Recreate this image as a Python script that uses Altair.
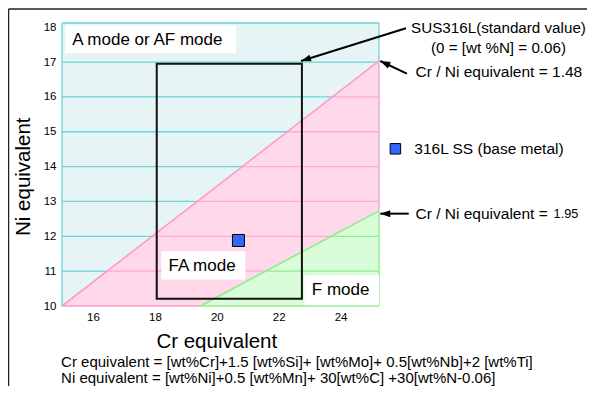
import math
import altair as alt
import pandas as pd

FONT = "Liberation Sans"

# ---- axes ----
CR_DOMAIN = [15.0, 25.24]
NI_DOMAIN = [10.0, 18.12]
CR_TICKS = [16, 18, 20, 22, 24]
NI_TICKS = [10, 11, 12, 13, 14, 15, 16, 17, 18]
GRID_NI = [11, 12, 13, 14, 15, 16, 17]
PLOT_W, PLOT_H = 317, 283

# ---- boundary lines ----
PINK_CR = [15.0, 25.24]     # Cr/Ni equivalent = 1.48
PINK_NI = [10.0, 17.03]
GREEN_CR = [19.47, 25.24]   # Cr/Ni equivalent = 1.95
GREEN_NI = [10.0, 12.73]

# ---- SUS316L standard-value rectangle ----
RECT_CR = [18.06, 22.75]
RECT_NI = [10.21, 16.95]

# ---- 316L SS base metal ----
BASE_CR = [20.70]
BASE_NI = [11.88]

# ---- mode labels (white boxes) ----
MODE_TEXT = ["A mode or AF mode", "FA mode", "F mode"]
MODE_BOX_CR = [[15.11, 20.63], [18.21, 20.92], [22.83, 25.24]]
MODE_BOX_NI = [[18.05, 17.26], [11.57, 10.76], [10.88, 10.02]]
MODE_TEXT_CR = [15.33, 18.44, 23.07]
MODE_TEXT_NI = [17.64, 11.14, 10.45]

# ---- arrows (tail -> tip) ----
ARROW_TAIL_CR = [26.11, 26.14, 26.20]
ARROW_TAIL_NI = [17.97, 16.67, 12.65]
ARROW_TIP_CR = [22.72, 25.28, 25.28]
ARROW_TIP_NI = [17.03, 17.03, 12.65]

# ---- annotation texts ----
CENTER_TEXT = ["SUS316L(standard value)", "(0 = [wt %N] = 0.06)"]
CENTER_CR = [29.10, 29.10]
CENTER_NI = [17.98, 17.40]
CENTER_SIZE = [15.2, 15.2]
LEFT_TEXT = ["Cr / Ni equivalent = 1.48", "316L SS (base metal)", "Cr / Ni equivalent = ", "1.95"]
LEFT_CR = [26.42, 26.38, 26.42, 30.88]
LEFT_NI = [16.70, 14.51, 12.63, 12.63]
LEFT_SIZE = [15.5, 15.5, 15.5, 12.7]
LEGEND_CR = [25.77]
LEGEND_NI = [14.51]

EQUATIONS = [
    "Cr equivalent = [wt%Cr]+1.5 [wt%Si]+ [wt%Mo]+ 0.5[wt%Nb]+2 [wt%Ti]",
    "Ni equivalent = [wt%Ni]+0.5 [wt%Mn]+ 30[wt%C] +30[wt%N-0.06]",
]
EQ_CR = [14.97, 14.97]
EQ_NI = [8.263, 7.804]

# ---- colours ----
CYAN_BG, CYAN_LN = "#e6f4f5", "#66d6d6"
PINK_BG, PINK_LN, PINK_GRID, PINK_EDGE = "#ffd8ea", "#ff99cc", "#ffaad4", "#d9a6dc"
GREEN_BG, GREEN_LN = "#d8fdd8", "#8ced8c"
BLUE = "#3366ff"

XS = alt.Scale(domain=CR_DOMAIN, nice=False, zero=False)
YS = alt.Scale(domain=NI_DOMAIN, nice=False, zero=False)
XAX = alt.Axis(values=CR_TICKS, domain=False, ticks=False, grid=False, labelFontSize=11.5,
               labelColor="black", labelFont=FONT, labelPadding=5, title=None)
YAX = alt.Axis(values=NI_TICKS, domain=False, ticks=False, grid=False, labelFontSize=11.5,
               labelColor="black", labelFont=FONT, labelPadding=6, title=None)


def X(f="cr"):
    return alt.X(f"{f}:Q", scale=XS, axis=XAX)


def Y(f="ni"):
    return alt.Y(f"{f}:Q", scale=YS, axis=YAX)


def pink_x(k):
    return PINK_CR[0] + (k - PINK_NI[0]) * (PINK_CR[1] - PINK_CR[0]) / (PINK_NI[1] - PINK_NI[0])


def green_x(k):
    return GREEN_CR[0] + (k - GREEN_NI[0]) * (GREEN_CR[1] - GREEN_CR[0]) / (GREEN_NI[1] - GREEN_NI[0])


xmin, xmax = CR_DOMAIN
ymin, ymax = NI_DOMAIN

# horizontal grid segments coloured by region
hseg = []
for k in GRID_NI:
    xp = min(pink_x(k), xmax)
    hseg.append((xmin, xp, k, CYAN_LN))
    if k <= GREEN_NI[1]:
        xg = green_x(k)
        hseg.append((xp, xg, k, PINK_GRID))
        hseg.append((xg, xmax, k, GREEN_LN))
    elif xp < xmax:
        hseg.append((xp, xmax, k, PINK_GRID))
hseg.append((xmin, xmax, ymax, CYAN_LN))
hseg.append((xmin, GREEN_CR[0], ymin, PINK_LN))
hseg.append((GREEN_CR[0], xmax, ymin, GREEN_LN))
hdf = pd.DataFrame(hseg, columns=["cr", "cr2", "ni", "col"])

vseg = [
    (xmin, ymin, ymax, CYAN_LN),
    (xmax, PINK_NI[1], ymax, CYAN_LN),
    (xmax, GREEN_NI[1], PINK_NI[1], PINK_EDGE),
    (xmax, ymin, GREEN_NI[1], GREEN_LN),
]
vdf = pd.DataFrame(vseg, columns=["cr", "ni", "ni2", "col"])

bg = alt.Chart(pd.DataFrame({"cr": [xmin], "cr2": [xmax], "ni": [ymin], "ni2": [ymax]})).mark_rect(
    fill=CYAN_BG).encode(x=X(), x2="cr2", y=Y(), y2="ni2")

pink_area = alt.Chart(pd.DataFrame({"cr": PINK_CR, "ni": PINK_NI, "ni2": [ymin, ymin]})).mark_area(
    color=PINK_BG, opacity=1).encode(x=X(), y=Y(), y2="ni2")
green_area = alt.Chart(pd.DataFrame({"cr": GREEN_CR, "ni": GREEN_NI, "ni2": [ymin, ymin]})).mark_area(
    color=GREEN_BG, opacity=1).encode(x=X(), y=Y(), y2="ni2")

hgrid = alt.Chart(hdf).mark_rule(strokeWidth=1.3).encode(
    x=X(), x2="cr2", y=Y(), color=alt.Color("col:N", scale=None))
vgrid = alt.Chart(vdf).mark_rule(strokeWidth=1.3).encode(
    x=X(), y=Y(), y2="ni2", color=alt.Color("col:N", scale=None))

pink_line = alt.Chart(pd.DataFrame({"cr": PINK_CR, "ni": PINK_NI})).mark_line(
    color=PINK_LN, strokeWidth=1.6).encode(x=X(), y=Y())
green_line = alt.Chart(pd.DataFrame({"cr": GREEN_CR, "ni": GREEN_NI})).mark_line(
    color=GREEN_LN, strokeWidth=1.6).encode(x=X(), y=Y())

boxes = alt.Chart(pd.DataFrame({
    "cr": [b[0] for b in MODE_BOX_CR], "cr2": [b[1] for b in MODE_BOX_CR],
    "ni": [b[0] for b in MODE_BOX_NI], "ni2": [b[1] for b in MODE_BOX_NI],
})).mark_rect(fill="white").encode(x=X(), x2="cr2", y=Y(), y2="ni2")

mode_text = alt.Chart(pd.DataFrame({"cr": MODE_TEXT_CR, "ni": MODE_TEXT_NI, "t": MODE_TEXT})).mark_text(
    align="left", baseline="middle", font=FONT, fontSize=17, color="black").encode(x=X(), y=Y(), text="t:N")

rect = alt.Chart(pd.DataFrame({"cr": [RECT_CR[0]], "cr2": [RECT_CR[1]], "ni": [RECT_NI[0]], "ni2": [RECT_NI[1]]})).mark_rect(
    fill=None, stroke="#111111", strokeWidth=2).encode(x=X(), x2="cr2", y=Y(), y2="ni2")

base = alt.Chart(pd.DataFrame({"cr": BASE_CR, "ni": BASE_NI})).mark_square(
    size=144, color=BLUE, opacity=1, stroke="black", strokeWidth=1).encode(x=X(), y=Y())

legend_sq = alt.Chart(pd.DataFrame({"cr": LEGEND_CR, "ni": LEGEND_NI})).mark_square(
    size=110, color=BLUE, opacity=1, stroke="black", strokeWidth=1).encode(x=X(), y=Y())

# arrows
px_per_cr = PLOT_W / (xmax - xmin)
px_per_ni = PLOT_H / (ymax - ymin)
angles = []
for tc, tn, hc, hn in zip(ARROW_TAIL_CR, ARROW_TAIL_NI, ARROW_TIP_CR, ARROW_TIP_NI):
    dx = (hc - tc) * px_per_cr
    dy = -(hn - tn) * px_per_ni
    angles.append(math.degrees(math.atan2(dx, -dy)) % 360)
adf = pd.DataFrame({"cr": ARROW_TAIL_CR, "ni": ARROW_TAIL_NI, "cr2": ARROW_TIP_CR, "ni2": ARROW_TIP_NI})
arrow_shaft = alt.Chart(adf).mark_rule(color="black", strokeWidth=2).encode(
    x=X(), y=Y(), x2="cr2", y2="ni2")
hdf2 = pd.DataFrame({"cr": ARROW_TIP_CR, "ni": ARROW_TIP_NI, "ang": angles})
arrow_head = alt.Chart(hdf2).mark_point(
    shape="M0,0L-0.7,2L0.7,2Z", filled=True, color="black", opacity=1, size=100, strokeWidth=0).encode(
    x=X(), y=Y(), angle=alt.Angle("ang:Q", scale=None))

center_txt = alt.Chart(pd.DataFrame({"cr": CENTER_CR, "ni": CENTER_NI, "t": CENTER_TEXT, "fs": CENTER_SIZE})).mark_text(
    align="center", baseline="middle", font=FONT, color="black").encode(
    x=X(), y=Y(), text="t:N", size=alt.Size("fs:Q", scale=None))
left_txt = alt.Chart(pd.DataFrame({"cr": LEFT_CR, "ni": LEFT_NI, "t": LEFT_TEXT, "fs": LEFT_SIZE})).mark_text(
    align="left", baseline="middle", font=FONT, color="black").encode(
    x=X(), y=Y(), text="t:N", size=alt.Size("fs:Q", scale=None))
eq_txt = alt.Chart(pd.DataFrame({"cr": EQ_CR, "ni": EQ_NI, "t": EQUATIONS})).mark_text(
    align="left", baseline="alphabetic", font=FONT, fontSize=15, color="black").encode(x=X(), y=Y(), text="t:N")

# axis titles
x_title = alt.Chart(pd.DataFrame({"cr": [20.0], "ni": [8.96], "t": ["Cr equivalent"]})).mark_text(
    align="center", baseline="middle", font=FONT, fontSize=20.5, color="black").encode(x=X(), y=Y(), text="t:N")
y_title = alt.Chart(pd.DataFrame({"cr": [13.78], "ni": [13.71], "t": ["Ni equivalent"]})).mark_text(
    align="center", baseline="middle", font=FONT, fontSize=20.5, color="black", angle=270).encode(
    x=X(), y=Y(), text="t:N")

# outer frame (top and left edges)
frame_top = alt.Chart(pd.DataFrame({"a": [0]})).mark_rule(color="#222222", strokeWidth=1.5).encode(
    x=alt.value(-53.5), x2=alt.value(530), y=alt.value(-14))
frame_left = alt.Chart(pd.DataFrame({"a": [0]})).mark_rule(color="#222222", strokeWidth=1.5).encode(
    x=alt.value(-53.5), y=alt.value(-14), y2=alt.value(370))

chart = alt.layer(
    bg, pink_area, green_area, hgrid, vgrid, pink_line, green_line, boxes, mode_text, rect, base,
    arrow_shaft, arrow_head, center_txt, left_txt, legend_sq, eq_txt, x_title, y_title,
    frame_top, frame_left,
).properties(
    width=PLOT_W, height=PLOT_H,
    autosize=alt.AutoSizeParams(type="none"),
    padding={"left": 54, "top": 15, "right": 208, "bottom": 80},
).configure_view(stroke=None)

chart.save("out.html", embed_options={"renderer": "svg", "actions": False})
